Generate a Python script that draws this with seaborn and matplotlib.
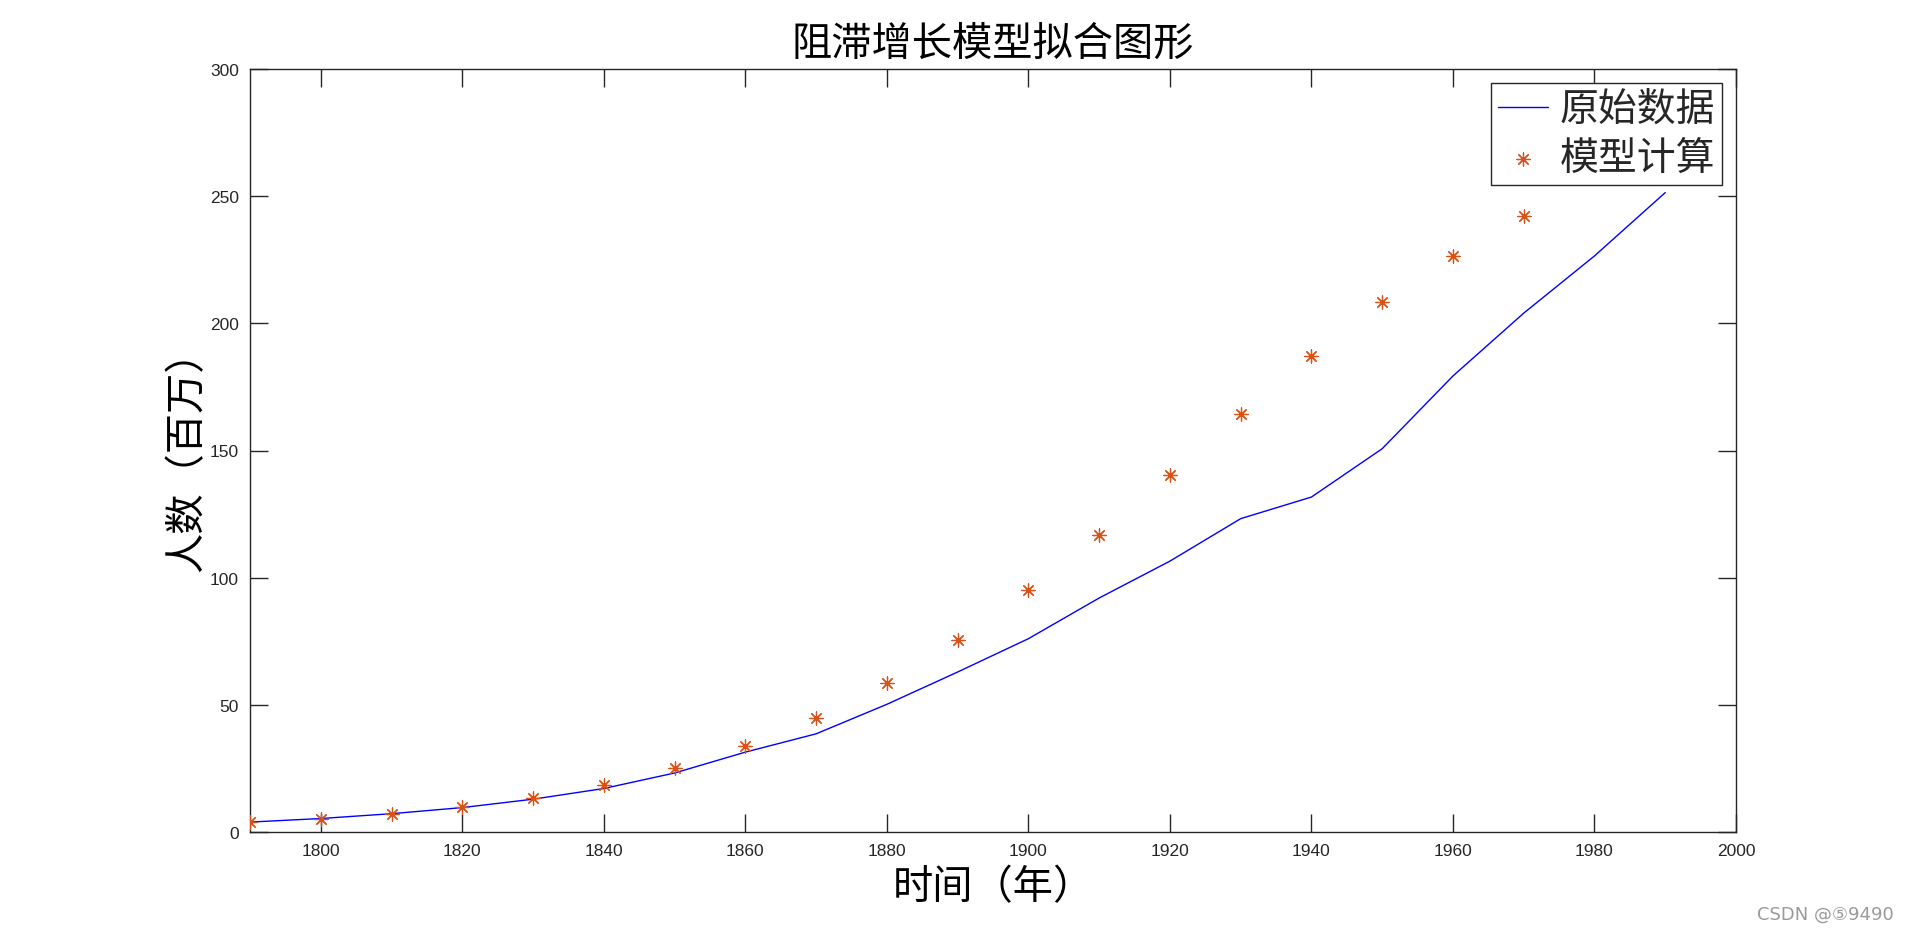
import matplotlib
matplotlib.use("Agg")
import matplotlib.pyplot as plt
import seaborn as sns
import pandas as pd

years = [1790, 1800, 1810, 1820, 1830, 1840, 1850, 1860, 1870, 1880, 1890,
         1900, 1910, 1920, 1930, 1940, 1950, 1960, 1970, 1980, 1990]
census = [3.9, 5.3, 7.2, 9.6, 12.9, 17.1, 23.2, 31.4, 38.6, 50.2, 62.9,
          76.0, 92.0, 106.5, 123.2, 131.7, 150.7, 179.3, 204.0, 226.5, 251.4]
model_years = years[:19]
model = [3.9, 5.3, 7.2, 9.8, 13.5, 18.4, 25.2, 34.0, 44.9, 58.7, 75.5,
         95.2, 116.9, 140.5, 164.3, 187.1, 208.4, 226.4, 242.2]

title = "阻滞增长模型拟合图形"
xlabel = "时间（年）"
ylabel = "人数（百万）"
labels = ["原始数据", "模型计算"]
xticks = list(range(1800, 2001, 20))
yticks = list(range(0, 301, 50))

sns.set_theme(style="white")
plt.rcParams['font.family'] = ['Noto Sans CJK SC', 'DejaVu Sans']

df_line = pd.DataFrame({"year": years, "pop": census})
df_model = pd.DataFrame({"year": model_years, "pop": model})

fig = plt.figure(figsize=(19.2, 9.37), dpi=100)
ax = fig.add_axes([250/1920, 1-833/937, (1736-250)/1920, (833-70)/937])

sns.lineplot(data=df_line, x="year", y="pop", ax=ax, color="#0000FF",
             linewidth=1.0, label=labels[0])
sns.scatterplot(data=df_model, x="year", y="pop", ax=ax, marker=(8, 2, 0),
                s=90, color="#D95319", edgecolor="#D95319", linewidth=0.9,
                label=labels[1], zorder=3)

ax.set_xlim(1790, 2000)
ax.set_ylim(0, 300)
ax.set_xticks(xticks)
ax.set_yticks(yticks)
tick_font = ['Liberation Sans', 'DejaVu Sans']
ax.tick_params(axis='both', which='both', direction='in', length=13, width=1,
               colors='#262626', labelsize=12.5, top=True, right=True,
               bottom=True, left=True, pad=8)
for lab in ax.get_xticklabels() + ax.get_yticklabels():
    lab.set_family(tick_font)
for s in ax.spines.values():
    s.set_color('#262626')
    s.set_linewidth(1.0)
    s.set_visible(True)

ax.set_title(title, fontsize=29, pad=10, color='black')
ax.set_xlabel(xlabel, fontsize=29, labelpad=6, color='black')
ax.set_ylabel(ylabel, fontsize=29, labelpad=2, color='black')

leg = ax.legend(loc='upper right', fontsize=28, frameon=True, fancybox=False,
                edgecolor='#262626', framealpha=1, borderpad=0.18,
                handlelength=1.3, handletextpad=0.3, labelspacing=0.22,
                borderaxespad=0.35)
leg.get_frame().set_linewidth(1.0)

fig.text(1825/1920, 1-915/937, "CSDN @⑤9490", ha='center', va='center',
         fontsize=13, color='#9a9a9a', family=['DejaVu Sans', 'Noto Sans CJK SC'])

fig.savefig("out.png", dpi=100, facecolor='white')
